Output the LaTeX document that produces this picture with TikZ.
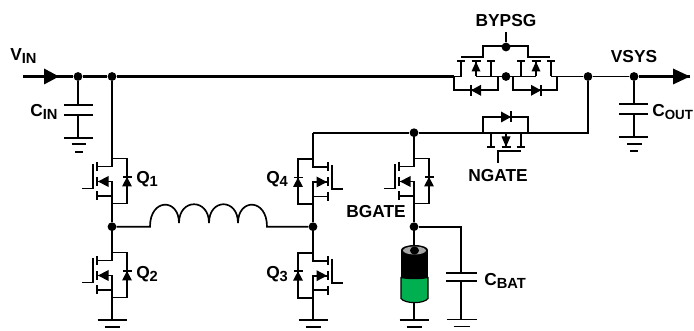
\documentclass[tikz,border=0pt]{standalone}
\usepackage{fontspec}
\setmainfont{Liberation Sans}
\definecolor{batgreen}{HTML}{00B050}
\newcommand{\lbl}[2]{{\fontsize{13}{15}\bfseries\selectfont #1\raisebox{-0.22em}{\fontsize{11}{13}\selectfont #2}}}
% FET: local origin on the stem at the junction with the body-diode loop
\newcommand{\myfet}[2]{%
 \begin{scope}[shift={#1},xscale=#2]
  \draw[wire] (0,0)--(0,8)--(15,8) (15,3.5)--(15,12.5) (15,18.5)--(15,27.5) (15,33)--(15,42)
    (15,37.5)--(0,37.5) (14,23)--(0,23)--(0,45) (0,0)--(-15,0)--(-15,45)--(0,45)
    (19,6)--(19,30)--(30,30) (-19.5,18.5)--(-10.5,18.5);
  \fill (14,23)--(3.5,17.5)--(3.5,28.5)--cycle;
  \fill (-15,18.5)--(-20,28)--(-10,28)--cycle;
 \end{scope}}
\newcommand{\mygnd}[4]{% x, y of top bar, half widths of bars
 \draw[wire] (#1-#3,#2)--(#1+#3,#2) (#1-#4,#2+7)--(#1+#4,#2+7);}
\newcommand{\mydiode}[3]{% x y dir
 \begin{scope}[shift={(#1,#2)},xscale=#3]
  \fill (5,0)--(-5,-5.5)--(-5,5.5)--cycle;
  \draw[wire] (5,-5.5)--(5,5.5);
 \end{scope}}
\begin{document}
\begin{tikzpicture}[x=0.75pt,y=-0.75pt,
  wire/.style={line width=1.25pt,black},
  rail/.style={line width=1.6pt,black},
  dot/.style={circle,fill=black,inner sep=0pt,minimum size=6.6pt},
  txt/.style={inner sep=0pt,font=\fontsize{13}{15}\bfseries\selectfont}]
\useasboundingbox (0,0) rectangle (694,331);
% junctions
\coordinate (vin) at (23,76.5);
\node[dot] (nin) at (78,76.5) {};
\node[dot] (nq1) at (112,76.5) {};
\coordinate (bl) at (454,76.5);
\node[dot] (bc) at (506,76.5) {};
\node[dot] (bg) at (506,47) {};
\coordinate (bgt) at (506,32);
\node[dot] (ns) at (588,76.5) {};
\node[dot] (ny) at (634,76.5) {};
\coordinate (vout) at (690,76.5);
\node[dot] (nsw1) at (112,226.7) {};
\node[dot] (nsw2) at (313,226.7) {};
\node[dot] (nb) at (414,132.7) {};
\node[dot] (nbat) at (414,226.7) {};
\coordinate (ntop) at (313,132.7);
\coordinate (nr) at (528,132.7);
\coordinate (nl) at (483,132.7);
% rails
\draw[rail] (vin)--(nin)--(nq1)--(bl);
\draw[wire] (bl)--(461,76.5)--(461,61);
\draw[rail] (ntop)--(nb)--(nl);
\draw[wire] (nl)--(nr)--(588,132.7)--(ns);
\draw[wire] (551,76.5)--(ns)--(ny);
\draw[rail] (ny)--(vout);
\fill (690,76.5)--(673,68.5)--(673,84.5)--cycle;
\fill (59,76.5)--(44,68.5)--(44,84.5)--cycle;
% Bypass FETs
\draw[wire] (bgt)--(bg);
\draw[wire] (461,56.7)--(483,56.7)--(483,46)--(528,46)--(528,56.7)--(550,56.7);
\draw[wire] (457,61)--(465,61) (471.5,61)--(480.5,61) (487,61)--(495,61)
   (517,61)--(525,61) (531.5,61)--(540.5,61) (547,61)--(555,61);
\draw[wire] (491,61)--(491,76.5) (476,61)--(476,76.5) (521,61)--(521,76.5) (536,61)--(536,76.5) (551,61)--(551,76.5)
   (476,76.5)--(536,76.5) (551,76.5)--(564,76.5);
\fill (476,61.5)--(471.5,71.5)--(480.5,71.5)--cycle;
\fill (536,61.5)--(531.5,71.5)--(540.5,71.5)--cycle;
\draw[wire] (454,76.5)--(454,90.3)--(498,90.3)--(498,76.5);
\draw[wire] (513,76.5)--(513,90.3)--(557,90.3)--(557,76.5);
\mydiode{476}{90.3}{-1}
\mydiode{536}{90.3}{1}
% NGATE FET
\draw[wire] (nl)--(483,117)--(528,117)--(nr);
\mydiode{506}{117}{1}
\draw[wire] (491,132.7)--(491,147) (487,147)--(495,147) (521,132.7)--(521,147) (516.5,147)--(525,147)
  (506,132.7)--(506,147) (501.5,147)--(510.5,147);
\fill (506,147)--(501.5,136.5)--(510.5,136.5)--cycle;
\draw[wire] (498,163)--(498,151)--(521,151);
% Cin, Cout
\draw[wire] (nin)--(78,105) (64,105)--(93,105) (64,114.7)--(93,114.7) (78,114.7)--(78,137.7) (64,137.7)--(93,137.7)
  (71.5,144.3)--(86,144.3) (75,152)--(82.5,152);
\draw[wire] (ny)--(634,104) (619,104)--(648,104) (619,114)--(648,114) (634,114)--(634,137) (619,137)--(648,137)
  (627,144)--(642,144) (630,151)--(637.5,151);
% FETs
\draw[wire] (nq1)--(112,158);
\myfet{(112,158.5)}{-1}
\draw[wire] (112,203.5)--(nsw1)--(112,252.5);
\myfet{(112,252.5)}{-1}
\draw[wire] (112,297.5)--(112,320);
\mygnd{112}{320}{14.5}{7.5}
\draw[wire] (ntop)--(313,159);
\myfet{(313,159)}{1}
\draw[wire] (313,204)--(nsw2)--(313,252.7);
\myfet{(313,252.7)}{1}
\draw[wire] (313,297.7)--(313,320);
\mygnd{313}{320}{14.5}{7.5}
\draw[wire] (nb)--(414,158.5);
\myfet{(414,158.5)}{-1}
\draw[wire] (414,203.5)--(nbat)--(414,250);
% inductor
\draw[wire] (nsw1)--(150,226.7) .. controls (150,198) and (179,198) .. (179,223)
  .. controls (179,198) and (209,198) .. (209,223)
  .. controls (209,198) and (238,198) .. (238,223)
  .. controls (238,198) and (267,198) .. (267,226.7) -- (nsw2);
% battery
\fill[black] (401,250) -- (401,278) -- (428,278) -- (428,250) -- cycle;
\fill[black] (414.5,250) ellipse [x radius=13.5, y radius=5];
\draw[line width=0.9pt,black,fill=batgreen] (401,277.5)--(401,298.5) .. controls (405,304) and (424,304) .. (428,298.5)--(428,277.5) .. controls (420,279) and (409,279) .. (401,277.5)--cycle;
\fill[gray!70] (414.5,250.5) ellipse [x radius=11.5, y radius=4];
\fill[black] (414.5,250.5) ellipse [x radius=4.5, y radius=4];
\draw[wire] (414,303)--(414,320);
\mygnd{414}{320}{14.5}{7.5}
% Cbat
\draw[wire] (nbat)--(461,226.7)--(461,272.7) (446,272.7)--(477,272.7) (446,280.7)--(477,280.7) (461,280.7)--(461,319);
\mygnd{461.5}{319.5}{15}{8}
% labels
\node[txt,anchor=west] (lvin) at (10,56) {\lbl{V}{IN}};
\node[txt,anchor=west] (lcin) at (30,112) {\lbl{C}{IN}};
\node[txt] (lby) at (506,21) {BYPSG};
\node[txt] (lvs) at (634,57) {VSYS};
\node[txt,anchor=west] (lco) at (652,112) {{\fontsize{13}{15}\bfseries\selectfont C\raisebox{-0.22em}{\fontsize{10}{12}\selectfont OUT}}};
\node[txt] (lng) at (498,176) {NGATE};
\node[txt] (lbg) at (376,212) {BGATE};
\node[txt,anchor=west] (lq1) at (136,179) {\lbl{Q}{1}};
\node[txt,anchor=west] (lq2) at (136,274) {\lbl{Q}{2}};
\node[txt,anchor=west] (lq3) at (266,274) {\lbl{Q}{3}};
\node[txt,anchor=west] (lq4) at (266,179) {\lbl{Q}{4}};
\node[txt,anchor=west] (lcb) at (484,281) {\lbl{C}{BAT}};
\end{tikzpicture}
\end{document}
